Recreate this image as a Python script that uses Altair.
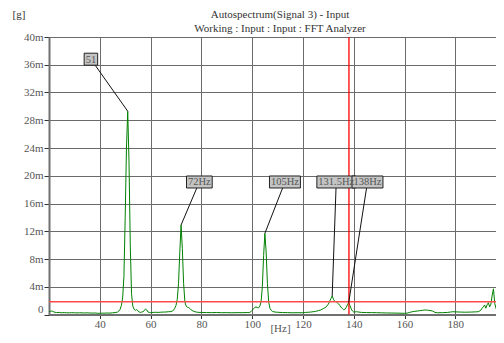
import altair as alt
import pandas as pd

# ---- spectrum (Hz, mg) ----
freq = [20.0, 20.5, 21.0, 21.5, 22.0, 23.0, 24.0, 25.0, 26.0, 27.0, 28.0, 29.0, 30.0,
        31.0, 32.0, 33.0, 34.0, 35.0, 36.0, 37.0, 38.0, 39.0, 40.0, 41.0, 42.0, 43.0,
        44.0, 45.0, 46.0, 47.0, 47.5, 48.0, 48.5, 49.0, 49.5, 50.0, 50.5, 51.0, 51.5,
        52.0, 52.5, 53.0, 53.5, 54.0, 54.5, 55.0, 55.5, 56.0, 56.5, 57.0, 57.5, 58.0,
        58.5, 59.0, 59.5, 60.0, 61.0, 62.0, 63.0, 64.0, 65.0, 66.0, 67.0, 68.0, 68.5,
        69.0, 69.5, 70.0, 70.5, 71.0, 71.5, 72.0, 72.5, 73.0, 73.5, 74.0, 74.5, 75.0,
        75.5, 76.0, 77.0, 78.0, 79.0, 80.0, 82.0, 84.0, 86.0, 88.0, 90.0, 92.0, 94.0,
        96.0, 98.0, 99.0, 99.5, 100.0, 100.5, 101.0, 101.5, 102.0, 102.5, 103.0, 103.5,
        104.0, 104.5, 105.0, 105.5, 106.0, 106.5, 107.0, 107.5, 108.0, 109.0, 110.0,
        112.0, 114.0, 116.0, 118.0, 120.0, 121.0, 122.0, 123.0, 124.0, 125.0, 126.0,
        127.0, 128.0, 129.0, 130.0, 130.5, 131.0, 131.5, 132.0, 132.5, 133.0, 133.5,
        134.0, 134.5, 135.0, 135.5, 136.0, 136.5, 137.0, 137.5, 138.0, 138.5, 139.0,
        139.5, 140.0, 141.0, 142.0, 143.0, 145.0, 147.0, 149.0, 151.0, 153.0, 155.0,
        157.0, 159.0, 160.0, 161.0, 162.0, 163.0, 164.0, 165.0, 166.0, 167.0, 168.0,
        169.0, 170.0, 171.0, 172.0, 173.0, 175.0, 177.0, 178.0, 179.0, 180.0, 182.0,
        184.0, 186.0, 188.0, 189.0, 190.0, 190.5, 191.0, 191.5, 192.0, 192.5, 193.0,
        193.5, 194.0, 194.5, 195.0, 195.5, 196.0, 196.5, 197.0, 197.5]
amp = [0.40, 0.45, 0.50, 0.45, 0.35, 0.28, 0.30, 0.25, 0.27, 0.25, 0.24, 0.26, 0.25,
       0.23, 0.25, 0.24, 0.22, 0.24, 0.22, 0.20, 0.22, 0.18, 0.17, 0.20, 0.19, 0.22,
       0.20, 0.24, 0.28, 0.35, 0.50, 0.75, 1.30, 2.40, 5.50, 14.0, 24.0, 29.3, 22.0,
       10.0, 3.00, 1.20, 0.75, 0.60, 0.70, 0.55, 0.35, 0.30, 0.35, 0.40, 0.55, 0.80,
       0.65, 0.35, 0.30, 0.28, 0.30, 0.32, 0.30, 0.33, 0.35, 0.36, 0.40, 0.42, 0.50,
       0.60, 0.90, 1.30, 2.20, 4.50, 9.00, 12.9, 9.50, 4.50, 1.80, 1.20, 1.05, 1.00,
       0.85, 0.65, 0.45, 0.35, 0.30, 0.30, 0.28, 0.27, 0.29, 0.26, 0.27, 0.25, 0.27,
       0.26, 0.28, 0.30, 0.40, 0.60, 0.85, 1.00, 1.10, 1.00, 0.95, 1.20, 1.80,
       4.00, 8.50, 11.7, 9.00, 4.50, 1.80, 0.90, 0.60, 0.45, 0.35, 0.32,
       0.28, 0.27, 0.25, 0.26, 0.25, 0.30, 0.32, 0.35, 0.40, 0.45, 0.55,
       0.65, 0.85, 1.05, 1.50, 1.90, 2.30, 2.67, 2.20, 1.90, 1.85, 1.70,
       1.55, 1.30, 1.05, 0.85, 0.70, 0.75, 1.00, 1.40, 1.70, 1.30, 0.80,
       0.50, 0.35, 0.40, 0.35, 0.30, 0.28, 0.27, 0.26, 0.24, 0.22, 0.21,
       0.20, 0.18, 0.17, 0.20, 0.30, 0.40, 0.45, 0.50, 0.55, 0.60, 0.65,
       0.62, 0.58, 0.50, 0.30, 0.25, 0.27, 0.30, 0.35, 0.40, 0.38, 0.35,
       0.33, 0.35, 0.38, 0.40, 0.60, 0.90, 1.10, 1.37, 0.90, 1.40, 1.70,
       1.10, 1.50, 2.80, 3.70, 1.60, 0.90, 0.40, 0.30, 0.30]

# ---- peak annotations ----
label_text = ["51", "72Hz", "105Hz", "131.5Hz", "138Hz"]
label_hz = [36.5, 79.2, 112.9, 133.1, 145.4]
label_amp = [36.8, 19.1, 19.1, 19.1, 19.1]
peak_hz = [51.0, 72.0, 105.0, 131.5, 138.0]
peak_amp = [29.3, 12.9, 11.7, 2.67, 1.7]

cursor_hz = [138.1]
threshold_amp = [1.85]

x_ticks = [40, 60, 80, 100, 120, 140, 160, 180]
y_ticks = [0, 4, 8, 12, 16, 20, 24, 28, 32, 36, 40]

title_main = "Autospectrum(Signal 3) - Input"
title_sub = "Working : Input : Input : FFT Analyzer"

W, H = 447, 277.5
X_DOM = [20, 196.0]
Y_DOM = [0, 40]
FONT = "Liberation Serif"
FS = 10.5
hz_per_px = (X_DOM[1] - X_DOM[0]) / W
amp_per_px = (Y_DOM[1] - Y_DOM[0]) / H

CW = {".": 2.6, "H": 7.6, "z": 4.6}


def text_w(s):
    return sum(CW.get(c, 5.25) for c in s)


spec = pd.DataFrame({"hz": freq, "amp": amp})
ann = pd.DataFrame({"text": label_text, "lhz": label_hz, "lamp": label_amp,
                    "phz": peak_hz, "pamp": peak_amp})
ann["bw"] = [text_w(t) + 3 for t in label_text]
ann["x0"] = ann["lhz"] - ann["bw"] / 2 * hz_per_px
ann["x1"] = ann["lhz"] + ann["bw"] / 2 * hz_per_px
ann["y0"] = ann["lamp"] - 6 * amp_per_px
ann["y1"] = ann["lamp"] + 6 * amp_per_px

xs = alt.Scale(domain=X_DOM, nice=False, zero=False)
ys = alt.Scale(domain=Y_DOM, nice=False, zero=False)

x_axis = alt.Axis(values=x_ticks, grid=True, gridColor="#6b6b6b", gridWidth=1,
                  domainColor="#707070", domainWidth=2, tickColor="#333333", tickSize=4,
                  labelFont=FONT, labelFontSize=11, labelColor="#555555", labelPadding=0,
                  labelOverlap=False, labelFlush=False,
                  title="[Hz]", titleFont=FONT, titleFontSize=11, titleFontWeight="normal",
                  titleColor="#555555", titleX=231, titleY=14, titleBaseline="middle",
                  titleAlign="center")
y_axis = alt.Axis(values=y_ticks, grid=True, gridColor="#6b6b6b", gridWidth=1,
                  domainColor="#707070", domainWidth=2, tickColor="#333333", tickSize=5,
                  labelFont=FONT, labelFontSize=11, labelColor="#555555", labelPadding=1,
                  labelOverlap=False, labelFlush=False,
                  labelExpr="datum.value == 0 ? '0' : datum.value + 'm'",
                  labelBaseline={"condition": {"test": "datum.value == 0", "value": "bottom"},
                                 "value": "middle"},
                  title="[g]", titleFont=FONT, titleFontSize=11, titleFontWeight="normal",
                  titleColor="#333333", titleAngle=0, titleX=-37, titleY=-23,
                  titleAlign="left", titleBaseline="middle")


def X(f):
    return alt.X(f, scale=xs, axis=x_axis)


def Y(f):
    return alt.Y(f, scale=ys, axis=y_axis)


line = alt.Chart(spec).mark_line(color="#008000", strokeWidth=1, clip=True).encode(
    x=X("hz:Q"), y=Y("amp:Q"))

hline = alt.Chart(pd.DataFrame({"v": threshold_amp})).mark_rule(
    color="#ff4a4a", strokeWidth=1.5).encode(y=Y("v:Q"))
vline = alt.Chart(pd.DataFrame({"v": cursor_hz})).mark_rule(
    color="#ff0000", strokeWidth=1.3).encode(x=X("v:Q"))

leaders = alt.Chart(ann).mark_rule(color="#111111", strokeWidth=1).encode(
    x=X("lhz:Q"), y=Y("lamp:Q"), x2="phz:Q", y2="pamp:Q")
boxes = alt.Chart(ann).mark_rect(fill="#c4c4c4", stroke="#222222", strokeWidth=1).encode(
    x=X("x0:Q"), x2="x1:Q", y=Y("y0:Q"), y2="y1:Q")
texts = alt.Chart(ann).mark_text(font=FONT, fontSize=FS, color="#555555",
                                 align="center", baseline="middle", dy=0.5).encode(
    x=X("lhz:Q"), y=Y("lamp:Q"), text="text:N")

title1 = alt.Chart(pd.DataFrame({"t": [title_main]})).mark_text(
    font=FONT, fontSize=11, color="#333333", align="center", baseline="middle").encode(
    x=alt.value(231), y=alt.value(-22), text="t:N")
title2 = alt.Chart(pd.DataFrame({"t": [title_sub]})).mark_text(
    font=FONT, fontSize=11, color="#333333", align="center", baseline="middle").encode(
    x=alt.value(231), y=alt.value(-8), text="t:N")

chart = alt.layer(line, hline, vline, leaders, boxes, texts, title1, title2).properties(
    width=W, height=H,
    autosize=alt.AutoSizeParams(type="none"),
    padding={"left": 41, "top": 29, "right": 0, "bottom": 20},
).configure_view(fill="#f3f3f3", strokeWidth=0).configure(background="white")

chart.save("out.html", embed_options={"renderer": "svg", "actions": False})
